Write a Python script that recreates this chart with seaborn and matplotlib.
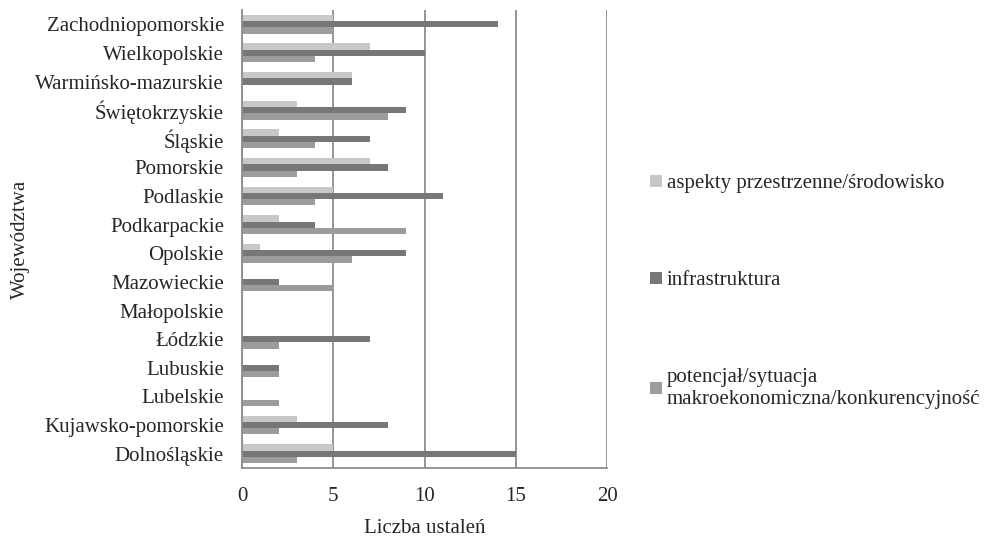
"""Liczba ustaleń wg województw i kategorii – poziomy wykres słupkowy."""

import matplotlib
matplotlib.use("Agg")

import matplotlib.pyplot as plt
import numpy as np
import pandas as pd
import seaborn as sns

# order: top of the chart to bottom
WOJEWODZTWA: list[str] = [
    "Zachodniopomorskie",
    "Wielkopolskie",
    "Warmińsko-mazurskie",
    "Świętokrzyskie",
    "Śląskie",
    "Pomorskie",
    "Podlaskie",
    "Podkarpackie",
    "Opolskie",
    "Mazowieckie",
    "Małopolskie",
    "Łódzkie",
    "Lubuskie",
    "Lubelskie",
    "Kujawsko-pomorskie",
    "Dolnośląskie",
]

ASPEKTY = [5, 7, 6, 3, 2, 7, 5, 2, 1, 0, 0, 0, 0, 0, 3, 5]
INFRASTRUKTURA = [14, 10, 6, 9, 7, 8, 11, 4, 9, 2, 0, 7, 2, 0, 8, 15]
POTENCJAL = [5, 4, 0, 8, 4, 3, 4, 9, 6, 5, 0, 2, 2, 2, 2, 3]

KATEGORIE = [
    "aspekty przestrzenne/środowisko",
    "infrastruktura",
    "potencjał/sytuacja\nmakroekonomiczna/konkurencyjność",
]
KOLORY = ["#c8c8ca", "#77777a", "#9c9c9e"]

X_TICKS = [0, 5, 10, 15, 20]
GRID_GRAY = "#8c8c8c"
FONT_SIZE = 15

df = pd.DataFrame(
    {
        "wojewodztwo": WOJEWODZTWA * 3,
        "liczba": ASPEKTY + INFRASTRUKTURA + POTENCJAL,
        "kategoria": np.repeat(KATEGORIE, len(WOJEWODZTWA)),
    }
)

sns.set_style("white")
plt.rcParams["font.family"] = ["Liberation Serif", "DejaVu Serif"]
plt.rcParams["font.size"] = FONT_SIZE

fig = plt.figure(figsize=(9.85, 5.37), dpi=100)
ax = fig.add_axes([0.2457, 0.1285, 0.3706, 0.853])

sns.barplot(
    data=df,
    y="wojewodztwo",
    x="liczba",
    hue="kategoria",
    hue_order=KATEGORIE,
    order=WOJEWODZTWA,
    palette=KOLORY,
    orient="h",
    width=0.66,
    saturation=1,
    linewidth=0,
    ax=ax,
)

ax.set_xlim(0, 20)
ax.set_ylim(len(WOJEWODZTWA) - 0.5, -0.5)
ax.set_xticks(X_TICKS)
ax.xaxis.grid(True, color=GRID_GRAY, linewidth=1.3)
ax.yaxis.grid(False)
ax.set_axisbelow(True)

for side in ["top", "right"]:
    ax.spines[side].set_visible(False)
for side in ["left", "bottom"]:
    ax.spines[side].set_color(GRID_GRAY)
    ax.spines[side].set_linewidth(1.3)

# category boundaries as outward minor ticks on the left axis
ax.set_yticks(np.arange(-0.5, len(WOJEWODZTWA), 1.0), minor=True)
ax.tick_params(axis="y", which="major", length=0, pad=13, labelsize=FONT_SIZE)
ax.tick_params(axis="y", which="minor", length=6, width=1.3, color=GRID_GRAY, direction="out")
ax.tick_params(axis="x", which="major", length=6, width=1.3, color=GRID_GRAY,
               direction="out", pad=8, labelsize=FONT_SIZE)

ax.set_xlabel("Liczba ustaleń", fontsize=FONT_SIZE, labelpad=9)
ax.set_ylabel("Województwa", fontsize=FONT_SIZE)
ax.yaxis.set_label_coords(-0.58, 0.5)

sns.move_legend(
    ax,
    "center left",
    bbox_to_anchor=(1.066, 0.385),
    frameon=False,
    title=None,
    fontsize=FONT_SIZE,
    handlelength=0.58,
    handleheight=0.5,
    handletextpad=0.22,
    labelspacing=3.75,
)

fig.savefig("out.png", dpi=100)
